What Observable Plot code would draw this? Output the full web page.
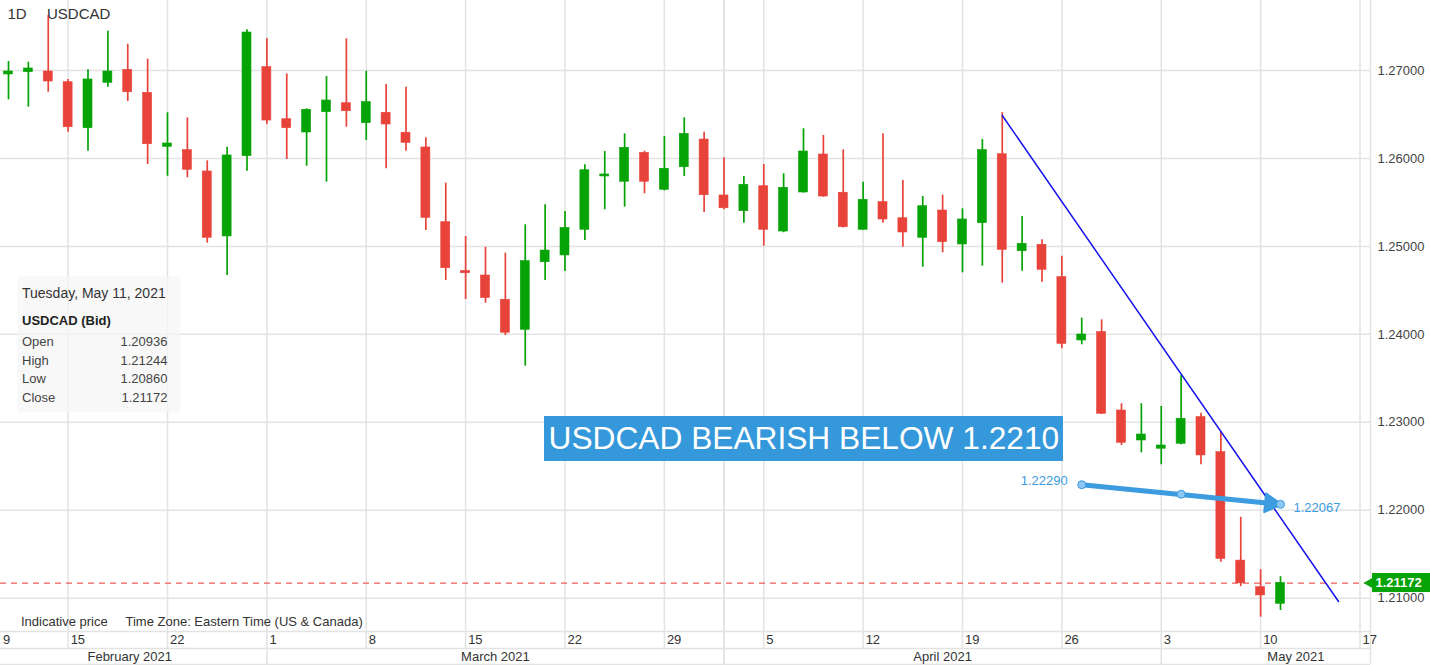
<!DOCTYPE html>
<html><head><meta charset="utf-8">
<script src="https://cdn.jsdelivr.net/npm/d3@7"></script>
<script src="https://cdn.jsdelivr.net/npm/@observablehq/plot@0.6"></script>
<style>
html,body{margin:0;padding:0;background:#fff;}
#chart{width:1430px;height:665px;overflow:hidden;}
</style></head><body><div id="chart"></div>
<script>
// ---- data (USDCAD daily, trading days) ----
const dates = ["2021-02-10","2021-02-11","2021-02-12","2021-02-15","2021-02-16","2021-02-17","2021-02-18","2021-02-19",
"2021-02-22","2021-02-23","2021-02-24","2021-02-25","2021-02-26","2021-03-01","2021-03-02","2021-03-03","2021-03-04","2021-03-05",
"2021-03-08","2021-03-09","2021-03-10","2021-03-11","2021-03-12","2021-03-15","2021-03-16","2021-03-17","2021-03-18","2021-03-19",
"2021-03-22","2021-03-23","2021-03-24","2021-03-25","2021-03-26","2021-03-29","2021-03-30","2021-03-31","2021-04-01","2021-04-02",
"2021-04-05","2021-04-06","2021-04-07","2021-04-08","2021-04-09","2021-04-12","2021-04-13","2021-04-14","2021-04-15","2021-04-16",
"2021-04-19","2021-04-20","2021-04-21","2021-04-22","2021-04-23","2021-04-26","2021-04-27","2021-04-28","2021-04-29","2021-04-30",
"2021-05-03","2021-05-04","2021-05-05","2021-05-06","2021-05-07","2021-05-10","2021-05-11"];
const opens = [1.26955,1.26981,1.26989,1.26867,1.26344,1.26860,1.27008,1.26746,
1.26132,1.26094,1.25852,1.25113,1.26026,1.27038,1.26446,1.26295,1.26526,1.26628,
1.26401,1.26519,1.26292,1.26125,1.25275,1.24720,1.24669,1.24393,1.24052,1.24820,
1.24897,1.25189,1.25795,1.25735,1.26064,1.25644,1.25900,1.26215,1.25579,1.25400,
1.25684,1.25169,1.25613,1.26045,1.25610,1.25189,1.25503,1.25320,1.25098,1.25408,
1.25022,1.25264,1.26048,1.24945,1.25018,1.24650,1.23930,1.24025,1.23134,1.22793,
1.22699,1.22756,1.23058,1.22660,1.21427,1.21125,1.20936];
const highs = [1.27102,1.27094,1.27625,1.26898,1.27008,1.27447,1.27299,1.27128,
1.26519,1.26462,1.25973,1.26128,1.27463,1.27360,1.26962,1.26565,1.26932,1.27360,
1.26992,1.26841,1.26810,1.26235,1.25719,1.25113,1.24990,1.24923,1.25246,1.25473,
1.25397,1.25928,1.26079,1.26280,1.26082,1.26250,1.26462,1.26298,1.26007,1.25795,
1.25931,1.25826,1.26337,1.26261,1.26098,1.25730,1.26280,1.25749,1.25567,1.25582,
1.25427,1.26215,1.26520,1.25340,1.25075,1.24889,1.24184,1.24165,1.23211,1.23211,
1.23180,1.23532,1.23103,1.22888,1.21919,1.21323,1.21244];
const lows = [1.26667,1.26583,1.26753,1.26298,1.26082,1.26810,1.26648,1.25931,
1.25798,1.25780,1.25036,1.24669,1.25855,1.26386,1.25988,1.25912,1.25730,1.26355,
1.26204,1.25882,1.26082,1.25181,1.24612,1.24396,1.24354,1.23987,1.23638,1.24612,
1.24715,1.25067,1.25416,1.25446,1.25598,1.25630,1.25795,1.25385,1.25416,1.25264,
1.25002,1.25155,1.25605,1.25560,1.25210,1.25185,1.25264,1.24990,1.24763,1.24927,
1.24700,1.24775,1.24582,1.24718,1.24593,1.23836,1.23881,1.23090,1.22736,1.22653,
1.22517,1.22744,1.22517,1.21409,1.21131,1.20784,1.20860];
const closes = [1.26989,1.27023,1.26875,1.26355,1.26898,1.26989,1.26753,1.26162,
1.26170,1.25871,1.25098,1.26034,1.27432,1.26431,1.26344,1.26553,1.26659,1.26537,
1.26640,1.26386,1.26178,1.25325,1.24752,1.24695,1.24413,1.24018,1.24832,1.24953,
1.25211,1.25866,1.25818,1.26121,1.25735,1.25882,1.26280,1.25582,1.25434,1.25700,
1.25189,1.25666,1.26079,1.25567,1.25218,1.25530,1.25306,1.25158,1.25457,1.25048,
1.25306,1.26094,1.24961,1.25030,1.24734,1.23892,1.23998,1.23097,1.22767,1.22861,
1.22736,1.23040,1.22623,1.21447,1.21169,1.21031,1.21172];

// axis ticks (trading-day index of each Monday)
const weekTickIndex = [-1, 3, 8, 13, 18, 23, 28, 33, 38, 43, 48, 53, 58, 63, 68];
const weekTickLabels = ["9","15","22","1","8","15","22","29","5","12","19","26","3","10","17"];
const monthLabels = ["February 2021","March 2021","April 2021","May 2021"];
const monthStartIndex = [-0.8, 13, 36, 58, 71.55];
const yTicks = [1.21, 1.22, 1.23, 1.24, 1.25, 1.26, 1.27];

// annotations
const trendX = [50, 66.92];
const trendY = [1.26488, 1.20962];
const arrowX = [54, 59, 64];
const arrowY = [1.22290, 1.22182, 1.22067];
const boxX = [26.97, 53.08];
const boxY = [1.22554, 1.23066];
const boxText = "USDCAD BEARISH BELOW 1.2210";
const infoDate = "Tuesday, May 11, 2021";
const infoTitle = "USDCAD (Bid)";
const infoNames = ["Open","High","Low","Close"];

// ---- build ----
const GREEN = "#06a306", RED = "#e8433a", GRID = "#e3e3e3", ABLUE = "#3d9be0";
const candles = opens.map((o, i) => ({i, date: dates[i], open: o, high: highs[i], low: lows[i], close: closes[i],
  color: closes[i] >= o ? GREEN : RED}));
const last = candles[candles.length - 1];
const infoValues = [last.open, last.high, last.low, last.close];
const fmt5 = d3.format(".5f");

const xDomain = [-8 / 19.875, (1370 - 8) / 19.875];
const yDomain = [1.20621, 1.27796];
const pxPerVal = 631 / (yDomain[1] - yDomain[0]);
const yAtPx = px => yDomain[1] - px / pxPerVal; // for decorations below the frame

const weekRules = weekTickIndex.filter(d => d >= xDomain[0]).concat([36]);
const months = monthLabels.map((m, k) => ({m, mid: (monthStartIndex[k] + monthStartIndex[k + 1]) / 2}));
const infoRowDy = [341.5, 360, 378.5, 397.5];
const arrowPts = arrowX.map((x, k) => ({x, y: arrowY[k]}));
// arrow head placement along the arrow line
const headT = 0.95;
const headPt = {x: arrowX[0] + headT * (arrowX[2] - arrowX[0]), y: arrowY[0] + headT * (arrowY[2] - arrowY[0])};
const shaftT = 0.93;
const shaftEnd = {x: arrowX[0] + shaftT * (arrowX[2] - arrowX[0]), y: arrowY[0] + shaftT * (arrowY[2] - arrowY[0])};
const arrowAngle = Math.atan2((arrowY[0] - arrowY[2]) * pxPerVal, (arrowX[2] - arrowX[0]) * 19.875) * 180 / Math.PI;

const T = {lineAnchor: "middle"};
const infoMarks = infoNames.flatMap((n, k) => [
  Plot.text([n], {...T, frameAnchor: "top-left", dx: 21.5, dy: infoRowDy[k], textAnchor: "start", fill: "#444", fontSize: 13}),
  Plot.text([fmt5(infoValues[k])], {...T, frameAnchor: "top-left", dx: 167, dy: infoRowDy[k], textAnchor: "end", fill: "#444", fontSize: 13})
]);

const chart = Plot.plot({
  width: 1430, height: 665,
  marginLeft: 0, marginRight: 60, marginTop: 0, marginBottom: 34,
  x: {domain: xDomain, axis: null},
  y: {domain: yDomain, axis: null},
  color: {type: "identity"},
  style: {fontFamily: "'Liberation Sans', Arial, sans-serif", fontSize: "13px", color: "#444", background: "#fff"},
  marks: [
    Plot.gridY(yTicks, {stroke: GRID, strokeOpacity: 1, strokeWidth: 1.5}),
    Plot.ruleX(weekRules, {y1: yDomain[1], y2: yAtPx(648), stroke: GRID, strokeOpacity: 1, strokeWidth: 1.5}),
    Plot.ruleX([13, 36, 58], {y1: yAtPx(648), y2: yAtPx(664), stroke: GRID, strokeWidth: 1.5}),
    Plot.ruleX([36], {y1: yDomain[1], y2: yAtPx(664), stroke: GRID, strokeWidth: 1.5}),
    Plot.ruleX([xDomain[1]], {y1: yDomain[1], y2: yAtPx(664), stroke: GRID, strokeWidth: 1.5}),
    Plot.ruleY([yDomain[0], yAtPx(648), yAtPx(664)], {x1: xDomain[0], x2: xDomain[1], stroke: GRID, strokeWidth: 1.5}),
    // axis labels
    Plot.axisY(yTicks, {anchor: "right", tickSize: 0, tickPadding: 7, tickFormat: fmt5, fill: "#444", fontSize: 13, textAnchor: "start"}),
    Plot.text(weekTickIndex, {...T, x: d => Math.max(d, xDomain[0]), text: (d, k) => weekTickLabels[k], frameAnchor: "bottom", dy: 8.5, dx: 2.5, textAnchor: "start", fill: "#333", fontSize: 13}),
    Plot.text(months, {...T, x: "mid", text: "m", frameAnchor: "bottom", dy: 25.5, textAnchor: "middle", fill: "#333", fontSize: 13}),
    // info box
    Plot.frame({fill: "#f6f6f6", fillOpacity: 0.75, stroke: null, insetLeft: 17, insetTop: 276, insetRight: 1370 - 180, insetBottom: 631 - 412}),
    Plot.text([infoDate], {...T, frameAnchor: "top-left", dx: 21.5, dy: 293.5, textAnchor: "start", fill: "#333", fontSize: 14}),
    Plot.text([infoTitle], {...T, frameAnchor: "top-left", dx: 21.5, dy: 320.5, textAnchor: "start", fill: "#222", fontSize: 13, fontWeight: "bold"}),
    ...infoMarks,
    // red dashed last price
    Plot.ruleY([last.close], {x1: xDomain[0], x2: xDomain[1], stroke: "#ef5b5b", strokeWidth: 1.3, strokeDasharray: "6,5"}),
    // candles
    Plot.ruleX(candles, {x: "i", y1: "low", y2: "high", stroke: "color", strokeWidth: 1.7}),
    Plot.rect(candles, {x1: d => d.i - 0.226, x2: d => d.i + 0.226, y1: "open", y2: "close", fill: "color", stroke: "color", strokeWidth: 0.6}),
    // trend line
    Plot.line(trendX.map((x, k) => ({x, y: trendY[k]})), {x: "x", y: "y", stroke: "#1414ee", strokeWidth: 1.5}),
    // annotation box
    Plot.rect([0], {x1: boxX[0], x2: boxX[1], y1: boxY[0], y2: boxY[1], fill: "#3498db"}),
    Plot.text([boxText], {...T, x: boxX[0], y: (boxY[0] + boxY[1]) / 2, dx: 4, textAnchor: "start", fill: "#fff", fontSize: 31.7}),
    // arrow
    Plot.link([0], {x1: arrowX[0], y1: arrowY[0], x2: shaftEnd.x, y2: shaftEnd.y, stroke: ABLUE, strokeWidth: 5, strokeLinecap: "round"}),
    Plot.dot([headPt], {x: "x", y: "y", symbol: "triangle", r: 7, rotate: 90 + arrowAngle, fill: ABLUE, stroke: ABLUE, strokeWidth: 2, strokeLinejoin: "round"}),
    Plot.dot(arrowPts, {x: "x", y: "y", r: 4, fill: "#8cc6f2", stroke: ABLUE, strokeWidth: 1}),
    Plot.text([arrowPts[0]], {...T, x: "x", y: "y", text: d => fmt5(d.y), dx: -14, dy: -4, textAnchor: "end", fill: ABLUE, fontSize: 13}),
    Plot.text([arrowPts[2]], {...T, x: "x", y: "y", text: d => fmt5(d.y), dx: 13, dy: 3, textAnchor: "start", fill: ABLUE, fontSize: 13}),
    // header & footer
    Plot.text(["1D"], {...T, frameAnchor: "top-left", dx: 7, dy: 13.5, textAnchor: "start", fill: "#333", fontSize: 15}),
    Plot.text(["USDCAD"], {...T, frameAnchor: "top-left", dx: 46.5, dy: 13.5, textAnchor: "start", fill: "#333", fontSize: 15}),
    Plot.text(["Indicative price"], {...T, frameAnchor: "bottom-left", dx: 20.5, dy: -9.5, textAnchor: "start", fill: "#333", fontSize: 13}),
    Plot.text(["Time Zone: Eastern Time (US & Canada)"], {...T, frameAnchor: "bottom-left", dx: 125, dy: -9.5, textAnchor: "start", fill: "#333", fontSize: 13}),
    // last price tag
    Plot.rect([last], {x1: (1372 - 8) / 19.875, x2: (1432 - 8) / 19.875, y1: d => d.close - 9.5 / pxPerVal, y2: d => d.close + 9.5 / pxPerVal, fill: GREEN}),
    Plot.dot([last], {x: (1370 - 8) / 19.875, y: "close", symbol: "triangle", rotate: -90, r: 4.5, fill: GREEN}),
    Plot.text([last], {...T, x: (1372 - 8) / 19.875, y: "close", text: d => fmt5(d.close), dx: 3, textAnchor: "start", fill: "#fff", fontWeight: "bold", fontSize: 13})
  ]
});
document.getElementById("chart").appendChild(chart);
</script>
</body></html>
